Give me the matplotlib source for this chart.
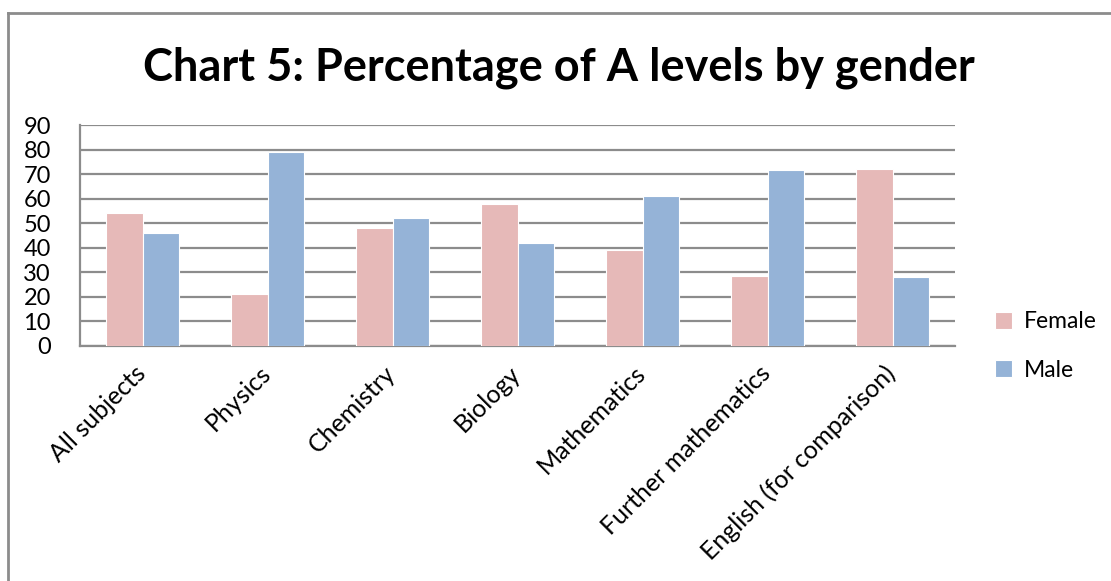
import matplotlib
matplotlib.use("Agg")
import matplotlib.pyplot as plt
import matplotlib.transforms as mtransforms
from matplotlib.lines import Line2D
import numpy as np

categories = ["All subjects", "Physics", "Chemistry", "Biology", "Mathematics",
              "Further mathematics", "English (for comparison)"]
female = [54, 21, 48, 58, 39, 28.5, 72]
male = [46, 79, 52, 42, 61, 71.5, 28]
yticks = [0, 10, 20, 30, 40, 50, 60, 70, 80, 90]

plt.rcParams['font.family'] = ['Lato', 'DejaVu Sans']

fig = plt.figure(figsize=(11.11, 5.81), dpi=100)
ax = fig.add_axes([80/1111, 1-346/581, 875/1111, 221/581])

x = np.arange(len(categories))
w = 0.29
ax.bar(x - w/2, female, w, color="#E6B9B8", edgecolor="white", linewidth=0.8, label="Female", zorder=3)
ax.bar(x + w/2, male, w, color="#95B3D7", edgecolor="white", linewidth=0.8, label="Male", zorder=3)

ax.set_xlim(-0.5, len(categories) - 0.5)
ax.set_ylim(0, 90)
ax.set_yticks(yticks)
ax.set_yticklabels([str(t) for t in yticks], fontsize=17)
ax.yaxis.grid(True, color="#8C8C8C", linewidth=1.6, zorder=0)
ax.set_axisbelow(True)
for s in ["top", "right"]:
    ax.spines[s].set_visible(False)
for s in ["left", "bottom"]:
    ax.spines[s].set_color("#8C8C8C")
    ax.spines[s].set_linewidth(1.6)
ax.tick_params(axis="y", length=0, pad=21)
ax.set_xticks(x)
ax.set_xticklabels(categories, rotation=45, ha="right", rotation_mode="anchor", fontsize=18)
ax.tick_params(axis="x", length=0, pad=11)
offset = mtransforms.ScaledTranslation(-9/100, 0, fig.dpi_scale_trans)
for lbl in ax.get_xticklabels():
    lbl.set_transform(lbl.get_transform() + offset)

fig.text(0.503, 1-68/581, "Chart 5: Percentage of A levels by gender",
         ha="center", va="center", fontsize=32.5, fontweight="bold")

leg = ax.legend(loc="center left", bbox_to_anchor=(1.022, 0.0), frameon=False,
                fontsize=16.5, handlelength=0.75, handleheight=0.75, labelspacing=1.2,
                handletextpad=0.5)

fig.add_artist(Line2D([8/1111, 8/1111], [0, 1-13/581], color="#8C8C8C", linewidth=2, transform=fig.transFigure))
fig.add_artist(Line2D([8/1111, 1], [1-13/581, 1-13/581], color="#8C8C8C", linewidth=2, transform=fig.transFigure))

fig.savefig("out.png", dpi=100)
